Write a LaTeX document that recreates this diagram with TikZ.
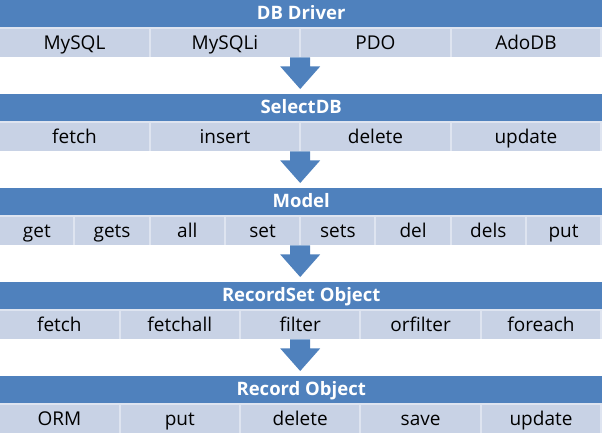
\documentclass[tikz,border=0pt]{standalone}
\usepackage{fontspec}
\setmainfont{Open Sans}
\usetikzlibrary{calc}
\definecolor{hdrblue}{RGB}{79,129,189}
\definecolor{cellblue}{RGB}{200,210,229}
\definecolor{cellline}{RGB}{222,228,240}
\begin{document}
\begin{tikzpicture}[x=1pt,y=-1pt,
  header/.style={fill=hdrblue, text=white, font=\bfseries\fontsize{18.5}{18.5}\selectfont,
    minimum width=602pt, minimum height=27pt, anchor=north west, inner sep=0pt,
    text height=13.5pt, text depth=2.5pt},
  rowbox/.style={fill=cellline, minimum width=602pt, minimum height=30pt,
    anchor=north west, inner sep=0pt},
  cell/.style={fill=cellblue, font=\fontsize{19}{19}\selectfont,
    minimum height=28.5pt, anchor=north west, inner sep=0pt,
    text height=14.5pt, text depth=2pt},
  blockarrow/.style={fill=hdrblue}]
\useasboundingbox (0,0) rectangle (602,436);

% one block: header bar, a row of cells below it
% (block tops every 94pt)
\node[header] (head0) at (0,0) {DB Driver};
\node[rowbox] (row0) at (0,27) {};
\foreach \t [count=\i from 0] in {MySQL,MySQLi,PDO,AdoDB}
  \node[cell, minimum width=148.5pt] (c0-\i) at ({\i*150.5},28.5) {\t};

\node[header] (head1) at (0,94) {SelectDB};
\node[rowbox] (row1) at (0,121) {};
\foreach \t [count=\i from 0] in {fetch,insert,delete,update}
  \node[cell, minimum width=148.5pt] (c1-\i) at ({\i*150.5},122.5) {\t};

\node[header] (head2) at (0,188) {Model};
\node[rowbox] (row2) at (0,215) {};
\foreach \t [count=\i from 0] in {get,gets,all,set,sets,del,dels,put}
  \node[cell, minimum width=73.25pt] (c2-\i) at ({\i*75.25},216.5) {\t};

\node[header] (head3) at (0,282) {RecordSet Object};
\node[rowbox] (row3) at (0,309) {};
\foreach \t [count=\i from 0] in {fetch,fetchall,filter,orfilter,foreach}
  \node[cell, minimum width=118.4pt] (c3-\i) at ({\i*120.4},310.5) {\t};

\node[header] (head4) at (0,376) {Record Object};
\node[rowbox] (row4) at (0,403) {};
\foreach \t [count=\i from 0] in {ORM,put,delete,save,update}
  \node[cell, minimum width=118.4pt] (c4-\i) at ({\i*120.4},404.5) {\t};

% block arrows from each row of cells down to the next header
\foreach \a/\b in {0/1,1/2,2/3,3/4}
  \fill[blockarrow]
    ($(row\a.south)+(-11,0)$) -- ($(row\a.south)+(9,0)$) --
    ($(row\a.south)+(9,9)$) -- ($(row\a.south)+(19,9)$) --
    ($(head\b.north)+(-1,-5)$) --
    ($(row\a.south)+(-21,9)$) -- ($(row\a.south)+(-11,9)$) -- cycle;
\end{tikzpicture}
\end{document}
